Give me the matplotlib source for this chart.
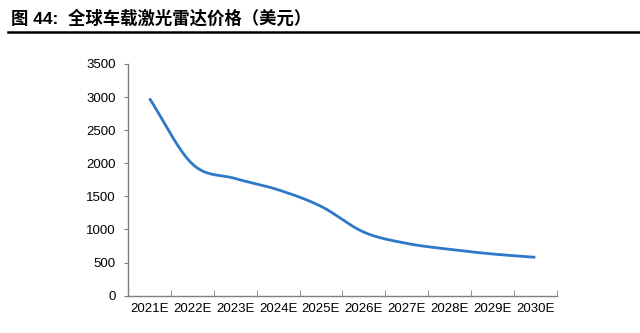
import numpy as np
import matplotlib
matplotlib.use("Agg")
import matplotlib.pyplot as plt

years = ['2021E', '2022E', '2023E', '2024E', '2025E',
         '2026E', '2027E', '2028E', '2029E', '2030E']
price = [2980, 1990, 1770, 1600, 1350, 960, 790, 700, 630, 580]

title = '图 44:  全球车载激光雷达价格（美元）'


def catmull_rom(x, y, n=30):
    # smooth curve through the points, like Excel's smoothed line
    x = np.asarray(x, float)
    y = np.asarray(y, float)
    px = np.concatenate([[2 * x[0] - x[1]], x, [2 * x[-1] - x[-2]]])
    py = np.concatenate([[2 * y[0] - y[1]], y, [2 * y[-1] - y[-2]]])
    xs, ys = [], []
    t = np.linspace(0, 1, n)
    for i in range(1, len(px) - 2):
        for p, out in ((px, xs), (py, ys)):
            p0, p1, p2, p3 = p[i - 1], p[i], p[i + 1], p[i + 2]
            out.extend(0.5 * ((2 * p1) + (-p0 + p2) * t
                              + (2 * p0 - 5 * p1 + 4 * p2 - p3) * t ** 2
                              + (-p0 + 3 * p1 - 3 * p2 + p3) * t ** 3))
    return np.array(xs), np.array(ys)


plt.rcParams['font.family'] = ['Liberation Sans', 'Noto Sans CJK SC']

fig = plt.figure(figsize=(6.4, 3.33), dpi=100, facecolor='white')
ax = fig.add_axes([0.2, 0.112, 0.67, 0.696])

x = np.arange(len(years))
sx, sy = catmull_rom(x, price)
ax.plot(sx, sy, color='#2F78C8', linewidth=2, solid_capstyle='butt')

ax.set_xlim(-0.5, len(years) - 0.5)
ax.set_ylim(0, 3500)
ax.set_yticks(np.arange(0, 3501, 500))
ax.set_xticks(x)
ax.set_xticklabels(years)
ax.set_xticks(np.arange(-0.5, len(years), 1), minor=True)

for s in ['top', 'right']:
    ax.spines[s].set_visible(False)
for s in ['left', 'bottom']:
    ax.spines[s].set_color('#7F7F7F')
    ax.spines[s].set_linewidth(1)

ax.tick_params(axis='x', which='major', length=0, labelsize=9.5, pad=5, colors='black')
ax.tick_params(axis='x', which='minor', length=4, direction='in', color='#7F7F7F')
ax.tick_params(axis='y', length=3, direction='out', color='#7F7F7F', labelsize=9.5, pad=6)

fig.text(0.017, 0.945, title, fontsize=12.5, fontweight='bold', va='center', ha='left')
fig.add_artist(plt.Line2D([0.012, 1.0], [0.905, 0.905], color='black', linewidth=1.8,
                          transform=fig.transFigure))

fig.savefig('out.png', dpi=100, facecolor='white')
